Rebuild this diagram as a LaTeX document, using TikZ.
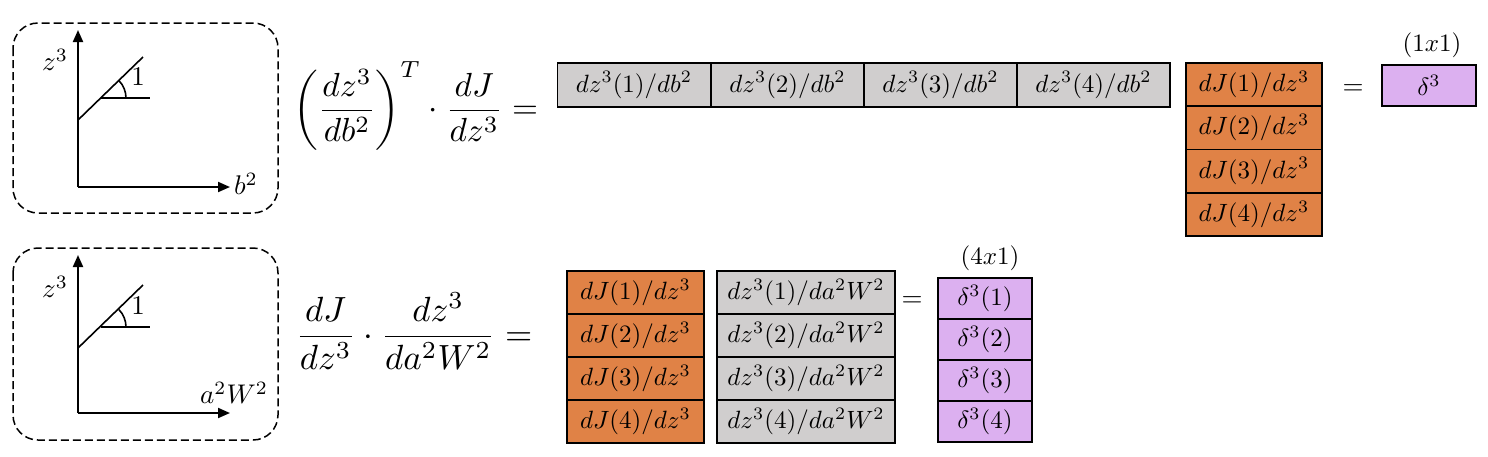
\documentclass[tikz,border=0pt]{standalone}
\usepackage{graphicx}
\usetikzlibrary{arrows.meta}
\definecolor{cellgray}{RGB}{208,206,206}
\definecolor{cellorange}{RGB}{224,130,70}
\definecolor{cellpurple}{RGB}{220,176,240}
\newcommand{\cx}[1]{\scalebox{1.25}{$#1$}}
\newcommand{\lx}[1]{\scalebox{1.35}{$#1$}}
\begin{document}
\begin{tikzpicture}[x=0.5pt,y=-0.5pt,
  cell/.style={draw=black,line width=0.9pt,inner sep=0pt},
  gcell/.style={cell,fill=cellgray,minimum width=76.5pt,minimum height=22pt},
  ocell/.style={cell,fill=cellorange,minimum width=68pt,minimum height=21.6pt},
  ocellb/.style={cell,fill=cellorange,minimum width=68.5pt,minimum height=21.5pt},
  gcellb/.style={cell,fill=cellgray,minimum width=89pt,minimum height=21.5pt},
  pcell/.style={cell,fill=cellpurple,minimum width=47pt,minimum height=20.5pt},
  dashbox/.style={draw=black,line width=0.75pt,dash pattern=on 4pt off 2pt,rounded corners=12.5pt},
  axis/.style={line width=1pt,-{Triangle[length=6pt,width=5pt]}},
  thin/.style={line width=0.8pt},
  lbl/.style={inner sep=0pt}]
\useasboundingbox (0,0) rectangle (1488,456);

% ---------- top left graph ----------
\draw[dashbox] (13,23) rectangle (278,213);
\coordinate (o1) at (78,187);
\coordinate (yt1) at (78,30);
\coordinate (xt1) at (230,187);
\draw[axis] (o1) -- (yt1);
\draw[axis] (o1) -- (xt1);
\coordinate (d1a) at (78,120);
\coordinate (d1b) at (143,57);
\coordinate (h1a) at (101,98);
\coordinate (h1b) at (150,98);
\draw[thin] (d1a) -- (d1b);
\draw[thin] (h1a) -- (h1b);
\draw[thin] (h1a) ++(25,0) arc[start angle=0,end angle=-44,radius=25];
\node[lbl] (z1) at (55,60) {\lx{z^3}};
\node[lbl] (b1) at (246,184) {\lx{b^2}};
\node[lbl] (one1) at (138,77) {\lx{1}};

% ---------- bottom left graph ----------
\draw[dashbox] (13,248) rectangle (278,440);
\coordinate (o2) at (78,413);
\coordinate (yt2) at (78,255);
\coordinate (xt2) at (230,413);
\draw[axis] (o2) -- (yt2);
\draw[axis] (o2) -- (xt2);
\coordinate (d2a) at (78,348);
\coordinate (d2b) at (143,285);
\coordinate (h2a) at (101,327);
\coordinate (h2b) at (150,327);
\draw[thin] (d2a) -- (d2b);
\draw[thin] (h2a) -- (h2b);
\draw[thin] (h2a) ++(25,0) arc[start angle=0,end angle=-44,radius=25];
\node[lbl] (z2) at (55,287) {\lx{z^3}};
\node[lbl] (aw2) at (234,393) {\lx{a^2W^2}};
\node[lbl] (one2) at (138,306) {\lx{1}};

% ---------- formulas ----------
\node[inner sep=0pt] (f1) at (416,106)
  {\scalebox{1.67}{$\displaystyle \left(\frac{dz^3}{db^2}\right)^{T}\cdot\frac{dJ}{dz^3}=$}};
\node[inner sep=0pt] (f2) at (414,331)
  {\scalebox{1.75}{$\displaystyle \frac{dJ}{dz^3}\cdot\frac{dz^3}{da^2W^2}=$}};

% ---------- top row ----------
\node[gcell] (g1) at (634,85) {\cx{dz^3(1)/db^2}};
\node[gcell] (g2) at (787.5,85) {\cx{dz^3(2)/db^2}};
\node[gcell] (g3) at (940.5,85) {\cx{dz^3(3)/db^2}};
\node[gcell] (g4) at (1093.5,85) {\cx{dz^3(4)/db^2}};

\node[ocell] (o11) at (1254,84.6) {\cx{dJ(1)/dz^3}};
\node[ocell] (o12) at (1254,127.8) {\cx{dJ(2)/dz^3}};
\node[ocell] (o13) at (1254,171) {\cx{dJ(3)/dz^3}};
\node[ocell] (o14) at (1254,214.2) {\cx{dJ(4)/dz^3}};

\node[lbl] (eq1) at (1353,90) {\lx{=}};
\node[pcell] (p1) at (1429,85.5) {\cx{\delta^3}};
\node[lbl] (s1) at (1432,45) {\cx{(1x1)}};

% ---------- bottom row ----------
\node[ocellb] (o21) at (635.5,292.5) {\cx{dJ(1)/dz^3}};
\node[ocellb] (o22) at (635.5,335.5) {\cx{dJ(2)/dz^3}};
\node[ocellb] (o23) at (635.5,378.5) {\cx{dJ(3)/dz^3}};
\node[ocellb] (o24) at (635.5,421.5) {\cx{dJ(4)/dz^3}};

\node[gcellb] (g21) at (806,292.5) {\cx{dz^3(1)/da^2W^2}};
\node[gcellb] (g22) at (806,335.5) {\cx{dz^3(2)/da^2W^2}};
\node[gcellb] (g23) at (806,378.5) {\cx{dz^3(3)/da^2W^2}};
\node[gcellb] (g24) at (806,421.5) {\cx{dz^3(4)/da^2W^2}};

\node[lbl] (eq2) at (912,302) {\lx{=}};

\node[pcell] (p21) at (985,298.5) {\cx{\delta^3(1)}};
\node[pcell] (p22) at (985,339.5) {\cx{\delta^3(2)}};
\node[pcell] (p23) at (985,380.5) {\cx{\delta^3(3)}};
\node[pcell] (p24) at (985,421.5) {\cx{\delta^3(4)}};
\node[lbl] (s2) at (990,258) {\cx{(4x1)}};
\end{tikzpicture}
\end{document}
